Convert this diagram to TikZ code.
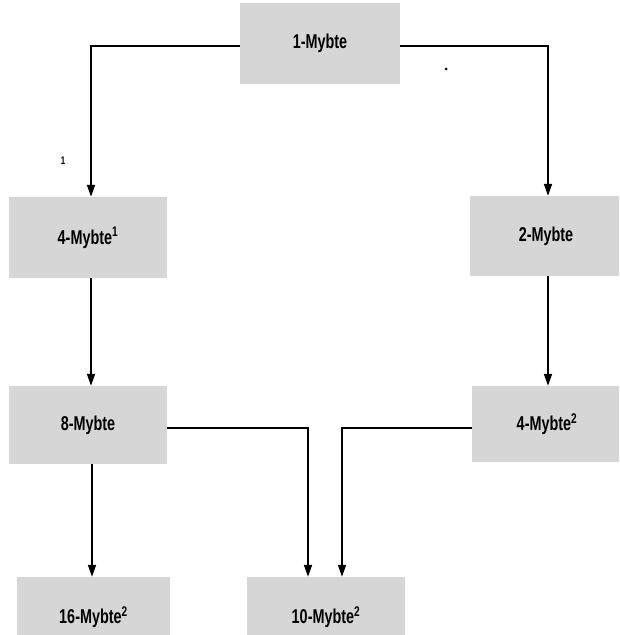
\documentclass[tikz,border=0pt]{standalone}
\usepackage{fontspec}
\setmainfont{Liberation Sans}[FakeStretch=0.72]
\usetikzlibrary{arrows.meta}
\definecolor{boxfill}{gray}{0.84}
\tikzset{
  mbox/.style={fill=boxfill, draw=none, inner sep=0pt, font=\fontsize{20}{22}\selectfont\bfseries},
  conn/.style={line width=1.8pt, -{Triangle[length=12pt,width=8pt]}},
  plain/.style={line width=1.8pt}
}
\begin{document}
\begin{tikzpicture}[x=1pt,y=-1pt]
\clip (0,0) rectangle (619,635);
\fill[white] (0,0) rectangle (619,635);
\node[mbox, minimum width=160pt, minimum height=81pt] (top) at (320,43.5) {1-Mybte};
\node[mbox, minimum width=158pt, minimum height=81pt] (b4a) at (88,237.5) {4-Mybte\textsuperscript{1}};
\node[mbox, minimum width=152pt, minimum height=80pt] (b2) at (546,236) {2-Mybte};
\node[mbox, minimum width=158pt, minimum height=78pt] (b8) at (88,425) {8-Mybte};
\node[mbox, minimum width=150pt, minimum height=76pt] (b4b) at (547,424) {4-Mybte\textsuperscript{2}};
\node[mbox, minimum width=153pt, minimum height=80pt] (b16) at (93.5,617) {16-Mybte\textsuperscript{2}};
\node[mbox, minimum width=158pt, minimum height=80pt] (b10) at (326,617) {10-Mybte\textsuperscript{2}};
\node[font=\fontsize{11}{12}\selectfont\bfseries] (mark) at (63,161) {1};
\fill (446,69) circle (1.5pt);
\coordinate (tl) at (91,46);
\coordinate (tr) at (548,46);
\draw[conn] (top.west |- tl) -- (tl) -- (tl |- b4a.north);
\draw[conn] (top.east |- tr) -- (tr) -- (tr |- b2.north);
\draw[conn] ([xshift=3pt]b4a.south) -- ([xshift=3pt]b8.north);
\draw[conn] ([xshift=2pt]b2.south) -- ([xshift=1pt]b4b.north);
\draw[conn] ([xshift=4pt]b8.south) -- ([xshift=-1.5pt]b16.north);
\coordinate (m8) at (167,428);
\coordinate (m4) at (472,428);
\draw[conn] (b8.east |- m8) -| ([xshift=-18pt]b10.north);
\draw[conn] (b4b.west |- m4) -| ([xshift=16pt]b10.north);
\end{tikzpicture}
\end{document}
